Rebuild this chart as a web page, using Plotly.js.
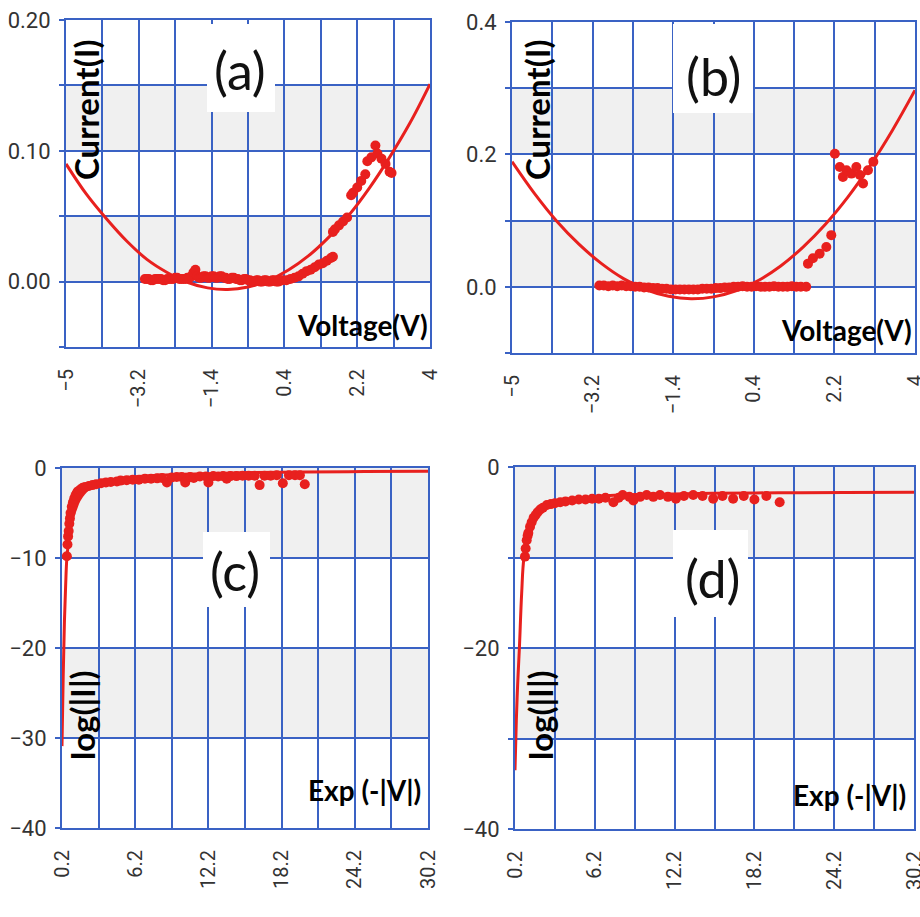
<!DOCTYPE html>
<html>
<head>
<meta charset="utf-8">
<script src="https://cdn.plot.ly/plotly-3.0.1.min.js"></script>
<style>html,body{margin:0;padding:0;background:#fff;}#chart{width:920px;height:917px;}</style>
</head>
<body>
<div id="chart"></div>
<script>
// ---------- Panel (a) ----------
const aPointsV = [-3.05,-3.0,-2.95,-2.9,-2.85,-2.8,-2.75,-2.7,-2.65,-2.6,-2.55,-2.5,-2.45,-2.4,-2.35,-2.3,-2.25,-2.2,-2.15,-2.1,-2.05,-2.0,-1.95,-1.9,-1.85,-1.8,-1.75,-1.7,-1.65,-1.6,-1.55,-1.5,-1.45,-1.4,-1.35,-1.3,-1.25,-1.2,-1.15,-1.1,-1.05,-1.0,-0.95,-0.9,-0.85,-0.8,-0.75,-0.7,-0.65,-0.6,-0.55,-0.5,-0.45,-0.4,-0.35,-0.3,-0.25,-0.2,-0.15,-0.1,-0.05,0.0,0.05,0.1,0.15,0.2,0.25,0.3,0.35,0.45,0.55,0.65,0.75,0.85,0.95,1.05,1.15,1.25,1.35,1.45,1.55,1.6,1.6,1.65,1.75,1.85,1.95,2.05,2.1,2.2,2.3,2.4,2.45,2.55,2.65,2.7,2.8,2.9,3.0,3.05];
const aPointsI = [0.002,0.002,0.002,0.001,0.001,0.002,0.002,0.002,0.002,0.001,0.001,0.002,0.002,0.002,0.002,0.003,0.003,0.002,0.002,0.002,0.002,0.003,0.003,0.004,0.007,0.009,0.004,0.003,0.003,0.004,0.004,0.003,0.003,0.004,0.004,0.003,0.003,0.004,0.004,0.003,0.003,0.002,0.002,0.003,0.003,0.002,0.002,0.001,0.001,0.002,0.002,0.001,0.001,0.000,0.000,0.001,0.001,0.000,0.000,0.001,0.001,0.000,0.000,0.001,0.001,0.000,0.000,0.001,0.001,0.001,0.002,0.003,0.004,0.006,0.008,0.009,0.011,0.013,0.014,0.016,0.018,0.019,0.038,0.040,0.043,0.046,0.049,0.066,0.068,0.072,0.077,0.082,0.092,0.095,0.104,0.098,0.094,0.090,0.084,0.083];
const aFitV = [-5,-4.5,-4,-3.5,-3,-2.5,-2,-1.5,-1,-0.5,0,0.5,1,1.5,2,2.5,3,3.5,4];
const aFitI = [0.090,0.067,0.048,0.031,0.017,0.007,-0.0005,-0.0048,-0.006,-0.0041,0.0008,0.0088,0.0198,0.034,0.051,0.0715,0.095,0.121,0.151];

// ---------- Panel (b) ----------
const bPointsV = [-3.05,-2.95,-2.85,-2.75,-2.65,-2.55,-2.45,-2.35,-2.25,-2.15,-2.05,-1.95,-1.85,-1.75,-1.65,-1.55,-1.45,-1.35,-1.25,-1.15,-1.05,-0.95,-0.85,-0.75,-0.65,-0.55,-0.45,-0.35,-0.25,-0.15,-0.05,0.05,0.15,0.25,0.35,0.45,0.55,0.65,0.75,0.85,0.95,1.05,1.15,1.25,1.35,1.45,1.57,1.61,1.72,1.87,2.02,2.13,2.21,2.32,2.39,2.47,2.58,2.69,2.77,2.84,2.95,3.07];
const bPointsI = [0.002,0.002,0.001,0.002,0.001,0.002,0.001,0.001,0.0,0.0,-0.001,-0.001,-0.002,-0.002,-0.003,-0.003,-0.004,-0.004,-0.004,-0.004,-0.004,-0.004,-0.004,-0.003,-0.003,-0.003,-0.002,-0.002,-0.001,-0.001,0.0,0.0,0.001,0.0,0.0,0.001,0.0,0.0,0.0,0.001,0.0,0.0,0.0,0.001,0.0,0.0,0.0,0.035,0.043,0.050,0.060,0.078,0.201,0.181,0.166,0.176,0.171,0.181,0.169,0.156,0.176,0.189];
const bFitV = [-5,-4.5,-4,-3.5,-3,-2.5,-2,-1.5,-1,-0.5,0,0.5,1,1.5,2,2.5,3,3.5,4];
const bFitI = [0.189,0.141,0.099,0.064,0.035,0.012,-0.0045,-0.0144,-0.018,-0.0152,-0.006,0.0095,0.0315,0.060,0.0945,0.1355,0.183,0.237,0.297];

// ---------- Panel (c) ----------
const cPointsX = [0.6,0.65,0.7,0.75,0.8,0.85,0.9,1.0,1.1,1.2,1.3,1.4,1.5,1.7,1.9,2.1,2.4,2.7,3.0,3.4,3.8,4.2,4.7,5.0,5.5,6.0,6.5,7.0,7.5,8.0,8.4,8.8,9.2,9.6,10.0,10.3,10.7,11.0,11.5,12.0,12.2,12.6,13.0,13.4,13.7,14.0,14.5,15.0,15.5,16.0,16.4,16.8,17.3,17.8,18.3,18.8,19.3,19.7,20.1];
const cPointsY = [-9.8,-8.5,-7.6,-7.0,-6.2,-5.6,-5.0,-4.3,-3.8,-3.4,-3.1,-2.8,-2.6,-2.4,-2.2,-2.1,-2.0,-1.9,-1.8,-1.7,-1.6,-1.55,-1.5,-1.4,-1.35,-1.3,-1.3,-1.2,-1.2,-1.15,-1.1,-1.6,-1.05,-1.0,-1.0,-1.6,-1.0,-1.1,-0.95,-0.95,-1.6,-0.9,-0.95,-0.9,-1.2,-0.9,-0.9,-0.85,-0.85,-0.85,-1.9,-0.85,-0.85,-0.8,-1.7,-0.8,-0.8,-0.8,-1.8];
const cFitX = [0.2,0.3,0.4,0.5,0.6,0.8,1.0,1.3,1.6,2.0,2.5,3.0,4,5,6,8,10,13,16,20,25,30.2];
const cFitY = [-30.9,-23,-17,-13,-10,-7.5,-5.8,-4.6,-3.6,-2.8,-2.2,-1.8,-1.4,-1.15,-1.0,-0.8,-0.7,-0.6,-0.5,-0.45,-0.4,-0.37];

// ---------- Panel (d) ----------
const dPointsX = [0.95,1.0,1.08,1.15,1.2,1.33,1.45,1.6,1.75,1.9,2.1,2.3,2.6,2.9,3.2,3.6,4.0,4.5,5.0,5.5,6.0,6.5,7.0,7.6,8.0,8.3,8.8,9.1,9.6,10.1,10.6,11.1,11.7,12.3,12.9,13.6,14.3,15.1,15.8,16.6,17.4,18.2,19.1,20.1];
const dPointsY = [-9.9,-9.0,-8.1,-7.6,-7.3,-6.6,-6.1,-5.6,-5.3,-5.0,-4.7,-4.5,-4.2,-4.1,-4.0,-3.9,-3.8,-3.7,-3.6,-3.6,-3.5,-3.5,-3.4,-3.9,-3.4,-3.1,-3.3,-3.7,-3.3,-3.1,-3.3,-3.1,-3.3,-3.5,-3.2,-3.1,-3.2,-3.5,-3.2,-3.5,-3.2,-3.6,-3.2,-3.9];
const dFitX = [0.2,0.3,0.4,0.53,0.7,0.88,1.2,1.5,1.8,2.2,2.6,3.0,3.6,4.5,6.1,8,11.1,15,20,25,30.2];
const dFitY = [-33.5,-28,-24,-20,-14,-10,-8.1,-6.6,-5.5,-4.8,-4.4,-4.1,-3.9,-3.6,-3.3,-3.1,-3.0,-2.9,-2.85,-2.82,-2.8];

// ---------- Tick labels ----------
const xTicksVolt = [-5,-4.1,-3.2,-2.3,-1.4,-0.5,0.4,1.3,2.2,3.1,4];
const xTickTextVolt = ['\u22125','','\u22123.2','','\u22121.4','','0.4','','2.2','','4'];
const yTicksA = [-0.05,0,0.05,0.1,0.15,0.2];
const yTickTextA = ['','0.00','','0.10','','0.20'];
const yTicksB = [-0.1,0,0.1,0.2,0.3,0.4];
const yTickTextB = ['','0.0','','0.2','','0.4'];
const xTicksExp = [0.2,3.2,6.2,9.2,12.2,15.2,18.2,21.2,24.2,27.2,30.2];
const xTickTextExp = ['0.2','','6.2','','12.2','','18.2','','24.2','','30.2'];
const yTicksLog = [-40,-30,-20,-10,0];
const yTickTextC = ['\u221240','\u221230','\u221220','\u221210','0'];
const yTickTextD = ['\u221240','','\u221220','','0'];

const panelTags = ['(a)','(b)','(c)','(d)'];
const xTitles = ['Voltage(V)','Voltage(V)','Exp (-|V|)','Exp (-|V|)'];
const yTitles = ['Current(I)','Current(I)','log(|I|)','log(|I|)'];

// ---------- Styles ----------
const RED = '#e8201e';
const BLUE = '#3a62c4';
const W = 920, H = 917;
const px = v => v / W;
const py = v => 1 - v / H;

function ptTrace(x, y, xa, ya) {
  return {x, y, xaxis: xa, yaxis: ya, type: 'scatter', mode: 'markers',
    marker: {color: RED, size: 10, line: {width: 0}}, hoverinfo: 'skip', showlegend: false};
}
function fitTrace(x, y, xa, ya) {
  return {x, y, xaxis: xa, yaxis: ya, type: 'scatter', mode: 'lines',
    line: {color: RED, width: 3, shape: 'spline', smoothing: 1}, hoverinfo: 'skip', showlegend: false};
}

const data = [
  fitTrace(aFitV, aFitI, 'x', 'y'), ptTrace(aPointsV, aPointsI, 'x', 'y'),
  fitTrace(bFitV, bFitI, 'x2', 'y2'), ptTrace(bPointsV, bPointsI, 'x2', 'y2'),
  fitTrace(cFitX, cFitY, 'x3', 'y3'), ptTrace(cPointsX, cPointsY, 'x3', 'y3'),
  fitTrace(dFitX, dFitY, 'x4', 'y4'), ptTrace(dPointsX, dPointsY, 'x4', 'y4')
];

const tickFont = {family: 'Roboto, "DejaVu Sans", sans-serif', size: 20, color: '#333'};
function xAxis(domain, anchor, range, vals, text) {
  return {domain, anchor, range, tickmode: 'array', tickvals: vals, ticktext: text,
    tickangle: -90, ticks: '', showgrid: true, gridcolor: BLUE, gridwidth: 2,
    showline: true, linecolor: BLUE, linewidth: 2, mirror: true, zeroline: false,
    tickfont: tickFont, ticklabelstandoff: 12, ticklabeloverflow: 'allow', automargin: false, fixedrange: true};
}
function yAxis(domain, anchor, range, vals, text) {
  return {domain, anchor, range, tickmode: 'array', tickvals: vals, ticktext: text,
    ticks: 'outside', ticklen: 5, tickwidth: 2, tickcolor: BLUE, showgrid: true, gridcolor: BLUE, gridwidth: 2,
    showline: true, linecolor: BLUE, linewidth: 2, mirror: true, zeroline: false,
    tickfont: Object.assign({}, tickFont, {size: 22}), ticklabelstandoff: 4, ticklabeloverflow: 'allow', automargin: false, fixedrange: true};
}

const GRAY = '#f0f0f0';
function band(xr, yr, y0, y1) {
  return {type: 'rect', xref: xr + ' domain', yref: yr, x0: 0, x1: 1, y0, y1,
    fillcolor: GRAY, line: {width: 0}, layer: 'below'};
}
function box(x0, x1, y0, y1) {
  return {type: 'rect', xref: 'paper', yref: 'paper', x0: px(x0), x1: px(x1), y0: py(y1), y1: py(y0),
    fillcolor: '#ffffff', line: {width: 0}, layer: 'above'};
}

const labelFont = {family: 'Lato, "Open Sans", sans-serif', size: 28, color: '#000', weight: 'bold'};
const labelFontV = {family: 'Lato, "Open Sans", sans-serif', size: 33, color: '#000', weight: 'bold'};
const tagFont = {family: 'Lato, "Open Sans", sans-serif', size: 52, color: '#111'};
function ann(text, x, y, font, angle) {
  return {text, xref: 'paper', yref: 'paper', x: px(x), y: py(y), xanchor: 'center', yanchor: 'middle',
    showarrow: false, font, textangle: angle || 0};
}

const layout = {
  width: W, height: H,
  margin: {l: 0, r: 0, t: 0, b: 0},
  paper_bgcolor: '#ffffff', plot_bgcolor: '#ffffff',
  showlegend: false,
  xaxis: xAxis([px(66), px(430)], 'y', [-5, 4], xTicksVolt, xTickTextVolt),
  yaxis: yAxis([py(347), py(20)], 'x', [-0.05, 0.2], yTicksA, yTickTextA),
  xaxis2: xAxis([px(512), px(915)], 'y2', [-5, 4], xTicksVolt, xTickTextVolt),
  yaxis2: yAxis([py(353), py(22)], 'x2', [-0.1, 0.4], yTicksB, yTickTextB),
  xaxis3: xAxis([px(62), px(428)], 'y3', [0.2, 30.2], xTicksExp, xTickTextExp),
  yaxis3: yAxis([py(828), py(468)], 'x3', [-40, 0], yTicksLog, yTickTextC),
  xaxis4: xAxis([px(515), px(914)], 'y4', [0.2, 30.2], xTicksExp, xTickTextExp),
  yaxis4: yAxis([py(829), py(467)], 'x4', [-40, 0], yTicksLog, yTickTextD),
  shapes: [
    band('x', 'y', 0, 0.05), band('x', 'y', 0.1, 0.15),
    band('x2', 'y2', 0, 0.1), band('x2', 'y2', 0.2, 0.3),
    band('x3', 'y3', -10, 0), band('x3', 'y3', -30, -20),
    band('x4', 'y4', -10, 0), band('x4', 'y4', -30, -20),
    box(207, 275, 24, 112), box(673, 753, 24, 113),
    box(203, 270, 532, 607), box(673, 748, 530, 617)
  ],
  annotations: [
    ann(panelTags[0], 240, 70, tagFont), ann(panelTags[1], 713, 76, tagFont),
    ann(panelTags[2], 235, 571, tagFont), ann(panelTags[3], 712, 578, tagFont),
    ann(yTitles[0], 86, 110, labelFontV, -90), ann(yTitles[1], 537, 110, labelFontV, -90),
    ann(yTitles[2], 82, 715, labelFontV, -90), ann(yTitles[3], 540, 715, labelFontV, -90),
    ann(xTitles[0], 362, 325, labelFont), ann(xTitles[1], 846, 330, labelFont),
    ann(xTitles[2], 364, 790, labelFont), ann(xTitles[3], 849, 795, labelFont)
  ]
};

Plotly.newPlot('chart', data, layout, {staticPlot: true, displayModeBar: false});
</script>
</body>
</html>
